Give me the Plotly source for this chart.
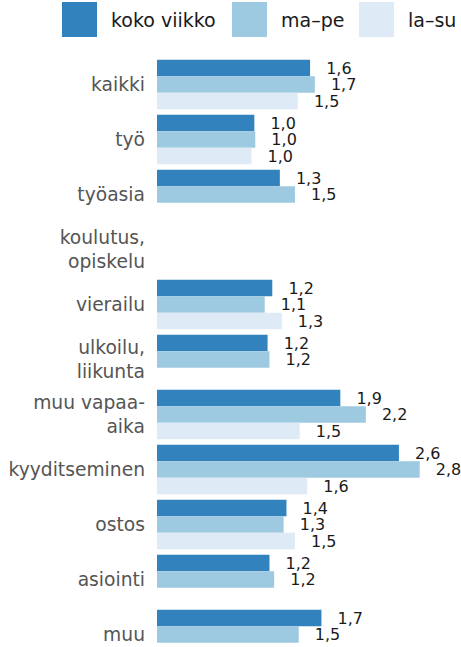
import plotly.graph_objects as go

categories = ["kaikki", "työ", "työasia", "koulutus,<br>opiskelu", "vierailu",
              "ulkoilu,<br>liikunta", "muu vapaa-<br>aika", "kyyditseminen",
              "ostos", "asiointi", "muu"]
series_names = ["koko viikko", "ma–pe", "la–su"]
koko_viikko = [1.62, 1.03, 1.30, None, 1.22, 1.17, 1.94, 2.56, 1.37, 1.19, 1.74]
ma_pe = [1.67, 1.04, 1.46, None, 1.14, 1.19, 2.21, 2.78, 1.34, 1.24, 1.50]
la_su = [1.49, 1.00, None, None, 1.32, None, 1.51, 1.59, 1.46, None, None]
colors = ["#3182bd", "#9ecae1", "#deebf7"]

W, H = 461, 647
ML, MT = 157, 57
PX_PER_UNIT = 94.5
ROW = 55

fig = go.Figure()
for name, vals, col in zip(series_names, [koko_viikko, ma_pe, la_su], colors):
    fig.add_trace(go.Bar(
        y=categories, x=vals, name=name, orientation="h",
        marker=dict(color=col, line=dict(width=0)),
        texttemplate="\u2002\u00a0%{x:.1f}", textposition="outside",
        textfont=dict(family="DejaVu Sans", size=16, color="#1a1a1a"),
        constraintext="none", cliponaxis=False, showlegend=False,
        hoverinfo="skip",
    ))

plot_w = W - ML
plot_h = H - MT
xmax = plot_w / PX_PER_UNIT
ybottom = -0.5 + plot_h / ROW

fig.update_layout(
    width=W, height=H,
    margin=dict(l=ML, r=0, t=MT, b=0, pad=0),
    barmode="group", bargap=0.1, bargroupgap=0,
    plot_bgcolor="white", paper_bgcolor="white",
    separators=", ",
    font=dict(family="DejaVu Sans"),
    showlegend=False,
)
fig.update_xaxes(range=[0, xmax], visible=False, showgrid=False, zeroline=False)
fig.update_yaxes(type="category", categoryorder="array", categoryarray=categories,
                 range=[ybottom, -0.5], showgrid=False, zeroline=False, showline=False,
                 ticks="", ticklabelstandoff=11,
                 tickfont=dict(family="DejaVu Sans", size=18.7, color="#555555"))

# legend drawn as large swatches (pixel layout converted to paper coords)
def px_x(px):
    return (px - ML) / plot_w

def px_y(py):
    return (H - py) / plot_h

legend_swatch_x = [62, 232, 359]
legend_text_x = [109, 279, 406]
for name, col, sx, tx in zip(series_names, colors, legend_swatch_x, legend_text_x):
    fig.add_shape(type="rect", xref="paper", yref="paper",
                  x0=px_x(sx), x1=px_x(sx + 35), y0=px_y(37), y1=px_y(2),
                  fillcolor=col, line=dict(width=0))
    fig.add_annotation(xref="paper", yref="paper", x=px_x(tx), y=px_y(20),
                       text=name, showarrow=False, xanchor="left", yanchor="middle",
                       font=dict(family="DejaVu Sans", size=19, color="#1a1a1a"))

fig.write_html("out.html", config={"displayModeBar": False},
               post_script="document.body.style.margin='0';document.body.style.overflow='hidden';")
